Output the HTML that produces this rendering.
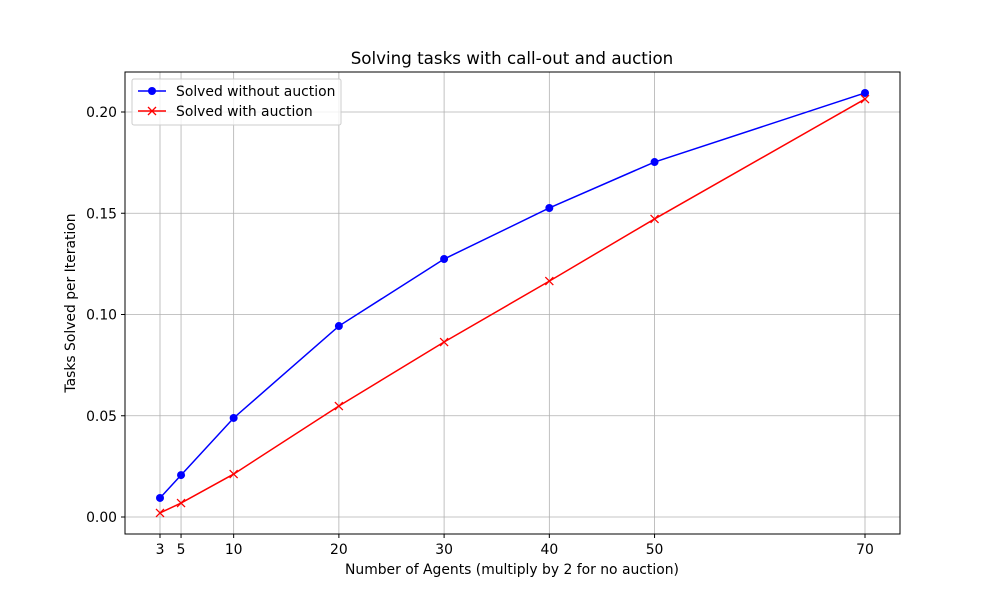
<!DOCTYPE html>
<html><head><meta charset="utf-8"><style>body{margin:0;background:#fff}svg{font-family:"DejaVu Sans","Liberation Sans",sans-serif}</style></head>
<body>
<svg id="chart" width="1000" height="600" viewBox="0 0 1000 600">
<rect width="1000" height="600" fill="#fff"/>
<g id="grid"></g><g id="ticks"></g><g id="series"></g>
<rect x="125" y="72" width="775" height="462" fill="none" stroke="#000" stroke-width="1"/>
<text x="512" y="64" text-anchor="middle" font-size="16.7">Solving tasks with call-out and auction</text>
<text x="512" y="574" text-anchor="middle" font-size="13.9">Number of Agents (multiply by 2 for no auction)</text>
<text transform="translate(75,303) rotate(-90)" text-anchor="middle" font-size="13.9">Tasks Solved per Iteration</text>
<g>
<rect x="132" y="79" width="209" height="46" fill="#fff" fill-opacity="0.8" stroke="#ccc" rx="2"/>
<g><line x1="138" y1="91" x2="166" y2="91" stroke="#0000ff" stroke-width="1.5"/><circle cx="152" cy="91" r="4" fill="#0000ff"/><text x="176" y="96" font-size="13.9">Solved without auction</text></g>
<g><line x1="138" y1="111" x2="166" y2="111" stroke="#ff0000" stroke-width="1.5"/><path d="M148 107L156 115M148 115L156 107" stroke="#ff0000" stroke-width="1.3"/><text x="176" y="116" font-size="13.9">Solved with auction</text></g>
</g>
</svg>
<script>
const categories=[3,5,10,20,30,40,50,70];
const withoutAuction=[0.0094,0.0207,0.0489,0.0943,0.1274,0.1526,0.1753,0.2094];
const withAuction=[0.002,0.0069,0.0212,0.0548,0.0864,0.1165,0.1472,0.2064];
const yTicks=[0,0.05,0.10,0.15,0.20];
const yTickLabels=["0.00","0.05","0.10","0.15","0.20"];
const NS="http://www.w3.org/2000/svg";
const xS=v=>160+(v-3)*(705/67);
const yS=v=>517-v*2025;
function mk(t,a,p){const e=document.createElementNS(NS,t);for(const k in a)e.setAttribute(k,a[k]);p.appendChild(e);return e;}
const grid=document.getElementById('grid'),ticks=document.getElementById('ticks'),ser=document.getElementById('series');
categories.forEach(c=>{const x=xS(c);
const g=mk('line',{x1:x,x2:x,y1:72,y2:534,stroke:'#b0b0b0','stroke-width':0.8},grid);


mk('line',{x1:x,x2:x,y1:534,y2:538,stroke:'#000'},ticks);
const t=mk('text',{x:x,y:554,'text-anchor':'middle','font-size':13.9},ticks);t.textContent=c;

});
yTicks.forEach((v,i)=>{const y=yS(v);
const g=mk('line',{x1:125,x2:900,y1:y,y2:y,stroke:'#b0b0b0','stroke-width':0.8},grid);


mk('line',{x1:121,x2:125,y1:y,y2:y,stroke:'#000'},ticks);
const t=mk('text',{x:117,y:y+5,'text-anchor':'end','font-size':13.9},ticks);t.textContent=yTickLabels[i];

});
function draw(vals,color,marker,name){
const pl=mk('polyline',{points:vals.map((v,i)=>xS(categories[i])+','+yS(v)).join(' '),fill:'none',stroke:color,'stroke-width':1.5},ser);


vals.forEach((v,i)=>{const x=xS(categories[i]),y=yS(v);let m;
if(marker==='o')m=mk('circle',{cx:x,cy:y,r:4,fill:color},ser);
else m=mk('path',{d:`M${x-4} ${y-4}L${x+4} ${y+4}M${x-4} ${y+4}L${x+4} ${y-4}`,stroke:color,'stroke-width':1.3},ser);

});}
draw(withoutAuction,'#0000ff','o','without-auction');
draw(withAuction,'#ff0000','x','with-auction');
</script>
</body></html>
